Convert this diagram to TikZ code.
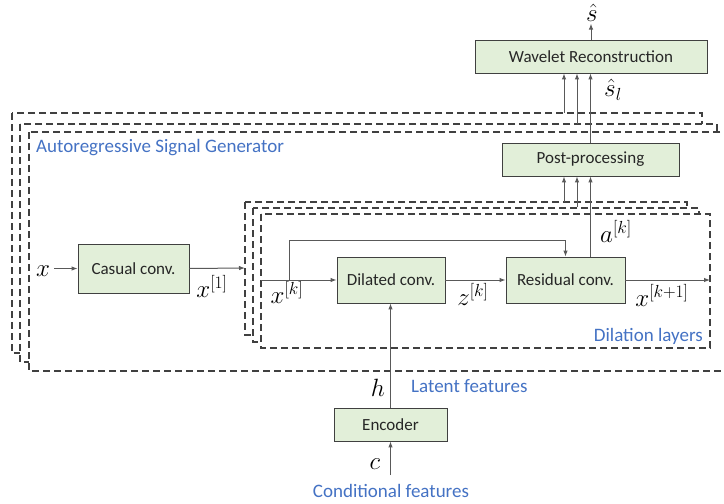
\RequirePackage{fix-cm}
\documentclass[tikz,border=0pt]{standalone}
\usepackage{fontspec}
\setmainfont{Carlito}
\usetikzlibrary{arrows.meta}
\definecolor{boxfill}{HTML}{E2EFD9}
\definecolor{boxline}{HTML}{404040}
\definecolor{frameline}{HTML}{404040}
\definecolor{connc}{HTML}{595959}
\definecolor{bluec}{HTML}{4472C4}
\definecolor{textc}{HTML}{262626}
\begin{document}
\begin{tikzpicture}[x=1pt,y=-1pt,
  box/.style={draw=boxline, fill=boxfill, line width=0.9pt, text=textc,
    font=\fontsize{17}{20}\selectfont, inner sep=0pt},
  frame/.style={draw=frameline, dash pattern=on 7pt off 4pt, line width=1.1pt, fill=white},
  conn/.style={draw=connc, line width=1pt},
  arr/.style={conn, -{Latex[length=6pt,width=4.5pt]}},
  lbl/.style={font=\fontsize{25}{29}\selectfont, inner sep=0pt},
  bluetxt/.style={text=bluec, font=\fontsize{19}{22}\selectfont, inner sep=0pt}]
\clip (0,0) rectangle (724,504);
\fill[white] (0,0) rectangle (724,504);

% generator frames (back to front)
\draw[frame] (12,113) rectangle (702,353);
\draw[frame] (20,124) rectangle (717,362);
\draw[frame] (29,132) rectangle (735,371);
\node[bluetxt, anchor=west] (gen) at (36,148) {Autoregressive Signal Generator};

% dilation frames
\draw[frame] (245,202) rectangle (687,335);
\draw[frame] (253,208) rectangle (699,342);
\draw[frame] (261,214) rectangle (710,348);
\node[bluetxt, anchor=east] (dil) at (703,336) {Dilation layers};

% named coordinates on frames
\coordinate (g1n) at (564,113);
\coordinate (g2n) at (577,124);
\coordinate (d1n) at (564,202);
\coordinate (d2n) at (577,207);
\coordinate (d1w) at (245,268);
\coordinate (d3w) at (261,280);
\coordinate (d3e) at (710,280);
\coordinate (br) at (289,280);
\coordinate (sk) at (289,240);
\coordinate (cin) at (390.5,475);

% boxes
\node[box, minimum width=232pt, minimum height=33pt] (wr) at (591,56.5) {Wavelet Reconstruction};
\node[box, minimum width=177pt, minimum height=33pt] (pp) at (590.5,159.5) {Post-processing};
\node[box, minimum width=111pt, minimum height=49pt] (cc) at (133.5,268.5) {Casual conv.};
\node[box, minimum width=108pt, minimum height=46pt] (dc) at (391,280) {Dilated conv.};
\node[box, minimum width=119pt, minimum height=46pt] (rc) at (565.5,280) {Residual conv.};
\node[box, minimum width=113pt, minimum height=33pt] (enc) at (390.5,424.5) {Encoder};

% labels
\node[lbl] (shat) at (592,13) {$\hat{s}$};
\node[lbl] (shatl) at (613,90) {$\hat{s}_l$};
\node[lbl] (ak) at (616,231) {$a^{[k]}$};
\node[lbl] (xk1) at (662,295) {$x^{[k+1]}$};
\node[lbl] (zk) at (473,294) {$z^{[k]}$};
\node[lbl] (xk) at (287,292) {$x^{[k]}$};
\node[lbl] (x1) at (212,286) {$x^{[1]}$};
\node[lbl] (x) at (43,271) {$x$};
\node[lbl] (h) at (378,388) {$h$};
\node[lbl] (c) at (375,464) {$c$};
\node[bluetxt, anchor=west] (lat) at (411,386) {Latent features};
\node[bluetxt] (cond) at (391,491) {Conditional features};

% connectors
\draw[arr] ([xshift=4pt]x.east |- cc.west) -- (cc.west);
\draw[arr] (cc.east) -- (d1w);
\draw[arr] (d3w) -- (dc.west);
\draw[arr] (br) -- (sk) -- (sk -| rc.north) -- (rc.north);
\draw[arr] (dc.east) -- (rc.west);
\draw[arr] (rc.east) -- (d3e);
\draw[arr] (rc.north -| pp.south) -- (pp.south);
\draw[arr] (d1n) -- (d1n |- pp.south);
\draw[arr] (d2n) -- (d2n |- pp.south);
\draw[arr] (g1n) -- (g1n |- wr.south);
\draw[arr] (g2n) -- (g2n |- wr.south);
\draw[arr] (pp.north) -- (pp.north |- wr.south);
\draw[arr] (wr.north) -- ([yshift=16pt]wr.north);
\draw[arr] (enc.north) -- (enc.north |- dc.south);
\draw[arr] (cin) -- (enc.south);
\end{tikzpicture}
\end{document}
